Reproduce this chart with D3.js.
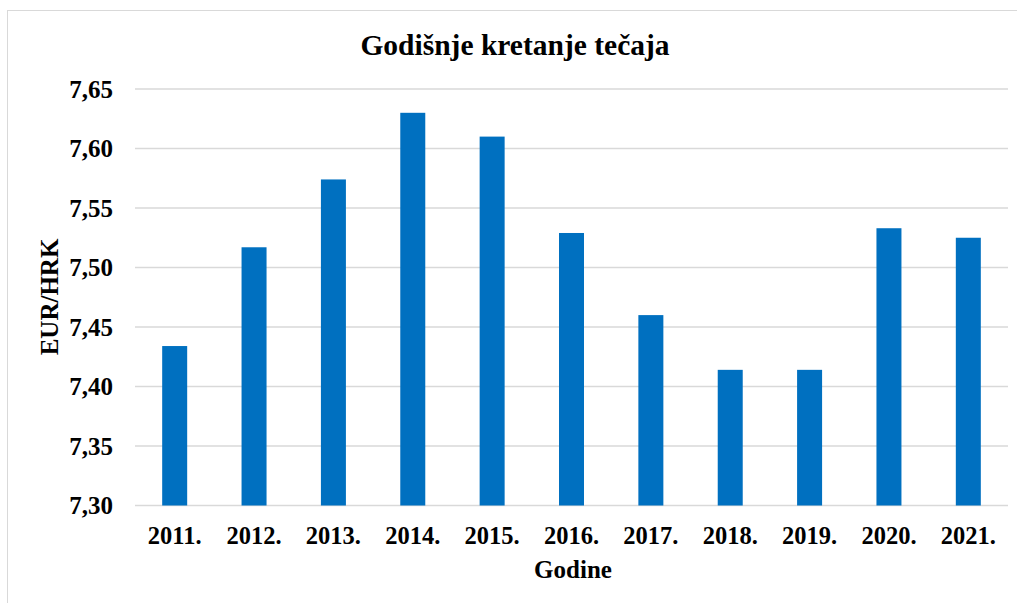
<!DOCTYPE html>
<html>
<head>
<meta charset="utf-8">
<script src="https://cdn.jsdelivr.net/npm/d3@7"></script>
<style>
  body { margin: 0; background: #fff; }
  text { font-family: "Liberation Serif", "Times New Roman", serif; font-weight: bold; fill: #000; }
</style>
</head>
<body>
<div id="chart"></div>
<script>
// data
var years = ["2011.", "2012.", "2013.", "2014.", "2015.", "2016.", "2017.", "2018.", "2019.", "2020.", "2021."];
var rates = [7.434, 7.517, 7.574, 7.630, 7.610, 7.529, 7.460, 7.414, 7.414, 7.533, 7.525];
var yTicks = [7.30, 7.35, 7.40, 7.45, 7.50, 7.55, 7.60, 7.65];

//svg size
var svgWidth = 1017;
var svgHeight = 603;

//plot area
var margin = { top: 89, right: 9, bottom: 97.5, left: 135 };
var width = svgWidth - margin.left - margin.right;
var height = svgHeight - margin.top - margin.bottom;

var svg = d3.select("#chart").append("svg")
    .attr("width", svgWidth)
    .attr("height", svgHeight);

//chart border (only top/left visible in the crop)
svg.append("rect")
    .attr("x", 7.5)
    .attr("y", 10.5)
    .attr("width", 1100)
    .attr("height", 700)
    .attr("fill", "none")
    .attr("stroke", "#d9d9d9")
    .attr("stroke-width", 1);

var chartGroup = svg.append("g")
    .attr("transform", `translate(${margin.left}, ${margin.top})`);

var xScale = d3.scaleBand()
    .domain(years)
    .range([0, width])
    .paddingInner(0.685)
    .paddingOuter(0.3425);

var yScale = d3.scaleLinear()
    .domain([7.30, 7.65])
    .range([height, 0]);

//gridlines
chartGroup.append("g")
    .selectAll("line")
    .data(yTicks)
    .enter()
    .append("line")
    .attr("x1", 0)
    .attr("x2", width)
    .attr("y1", d => yScale(d))
    .attr("y2", d => yScale(d))
    .attr("stroke", "#d9d9d9")
    .attr("stroke-width", 1.3);

//bars
chartGroup.selectAll("rect.bar")
    .data(rates)
    .enter()
    .append("rect")
    .classed("bar", true)
    .attr("x", (d, i) => xScale(years[i]))
    .attr("y", d => yScale(d))
    .attr("width", xScale.bandwidth())
    .attr("height", d => height - yScale(d))
    .attr("fill", "#0070c0");

//y axis
var leftAxis = d3.axisLeft(yScale)
    .tickValues(yTicks)
    .tickSize(0)
    .tickPadding(22)
    .tickFormat(d => d3.format(".2f")(d).replace(".", ","));

var yAxis = chartGroup.append("g").call(leftAxis);
yAxis.select(".domain").remove();
yAxis.selectAll("text")
    .attr("font-size", "25px")
    .attr("font-family", null)
    .attr("dy", "0.32em");

//x axis
var bottomAxis = d3.axisBottom(xScale)
    .tickSize(0)
    .tickPadding(21);

var xAxis = chartGroup.append("g")
    .attr("transform", `translate(0, ${height})`)
    .call(bottomAxis);
xAxis.select(".domain").remove();
xAxis.selectAll("text")
    .attr("font-size", "24.5px")
    .attr("font-family", null)
    .attr("dy", "0.71em");

//title
svg.append("text")
    .attr("x", 515)
    .attr("y", 55)
    .attr("text-anchor", "middle")
    .attr("font-size", "29.5px")
    .text("Godišnje kretanje tečaja");

//axis titles
svg.append("text")
    .attr("x", 573)
    .attr("y", 578)
    .attr("text-anchor", "middle")
    .attr("font-size", "25px")
    .text("Godine");

svg.append("text")
    .attr("transform", "translate(58, 297) rotate(-90)")
    .attr("text-anchor", "middle")
    .attr("font-size", "25px")
    .text("EUR/HRK");
</script>
</body>
</html>
